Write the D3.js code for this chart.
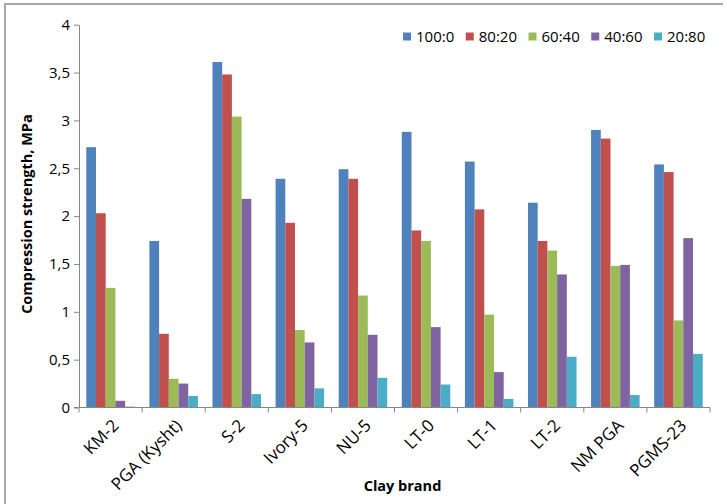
<!DOCTYPE html>
<html>
<head>
<meta charset="utf-8">
<script src="https://cdn.jsdelivr.net/npm/d3@7"></script>
<style>
  html, body { margin: 0; padding: 0; background: #fff; }
  svg { display: block; }
  text { font-family: "Open Sans", "Liberation Sans", sans-serif; fill: #000; }
</style>
</head>
<body>
<svg id="chart" width="727" height="504"></svg>
<script>
// Clay brands on the x axis
const categories = ["KM-2", "PGA (Kysht)", "S-2", "Ivory-5", "NU-5", "LT-0", "LT-1", "LT-2", "NM PGA", "PGMS-23"];
// Mixture ratios (legend entries)
const seriesNames = ["100:0", "80:20", "60:40", "40:60", "20:80"];
const seriesColors = ["#4F81BD", "#C0504D", "#9BBB59", "#8064A2", "#4BACC6"];

// Compression strength, MPa, one array per ratio, ordered as categories
const s100_0 = [2.72, 1.74, 3.61, 2.39, 2.49, 2.88, 2.57, 2.14, 2.90, 2.54];
const s80_20 = [2.03, 0.77, 3.48, 1.93, 2.39, 1.85, 2.07, 1.74, 2.81, 2.46];
const s60_40 = [1.25, 0.30, 3.04, 0.81, 1.17, 1.74, 0.97, 1.64, 1.48, 0.91];
const s40_60 = [0.07, 0.25, 2.18, 0.68, 0.76, 0.84, 0.37, 1.39, 1.49, 1.77];
const s20_80 = [0.01, 0.12, 0.14, 0.20, 0.31, 0.24, 0.09, 0.53, 0.13, 0.56];
const seriesValues = [s100_0, s80_20, s60_40, s40_60, s20_80];

const yTicks = [0, 0.5, 1, 1.5, 2, 2.5, 3, 3.5, 4];

const svg = d3.select("#chart");
const plot = { left: 79, right: 710, top: 24.7, bottom: 407.5 };
const axisColor = "#868686";

// outer frame (top and left edges visible)
svg.append("path")
  .attr("d", "M5,520 L5,4 L723,4")
  .attr("fill", "none")
  .attr("stroke", "#8c8c8c")
  .attr("stroke-width", 1.5);

const x = d3.scaleBand().domain(categories).range([plot.left, plot.right]).padding(0);
const xInner = d3.scaleBand().domain(seriesNames).range([0, x.bandwidth()])
  .paddingInner(0).paddingOuter(0.75);
const y = d3.scaleLinear().domain([0, 4]).range([plot.bottom, plot.top]);

const fmt = d => String(d).replace(".", ",");

// bars
const groups = svg.append("g").selectAll("g")
  .data(categories)
  .join("g")
  .attr("transform", d => `translate(${x(d)},0)`);

groups.selectAll("rect")
  .data((c, ci) => seriesNames.map((s, si) => ({ s, si, v: seriesValues[si][ci] })))
  .join("rect")
  .attr("x", d => xInner(d.s))
  .attr("width", xInner.bandwidth())
  .attr("y", d => y(d.v))
  .attr("height", d => y(0) - y(d.v))
  .attr("fill", d => seriesColors[d.si]);

// y axis
const yAxis = svg.append("g")
  .attr("transform", `translate(${plot.left},0)`)
  .call(d3.axisLeft(y).tickValues(yTicks).tickFormat(fmt).tickSize(5).tickPadding(4).tickSizeOuter(0));
yAxis.select(".domain").attr("stroke", axisColor);
yAxis.selectAll(".tick line").attr("stroke", axisColor);
yAxis.selectAll(".tick text").attr("font-size", 15).attr("fill", "#000");

// x axis: ticks at category boundaries, labels rotated
const xAxisG = svg.append("g").attr("transform", `translate(0,${plot.bottom})`);
xAxisG.append("line")
  .attr("x1", plot.left - 5).attr("x2", plot.right)
  .attr("stroke", axisColor);
const boundaries = categories.map(c => x(c)).concat([plot.right]);
xAxisG.selectAll("line.tk")
  .data(boundaries)
  .join("line")
  .attr("class", "tk")
  .attr("x1", d => d).attr("x2", d => d)
  .attr("y1", 0).attr("y2", 5)
  .attr("stroke", axisColor);
xAxisG.selectAll("text")
  .data(categories)
  .join("text")
  .attr("transform", d => `translate(${x(d) + x.bandwidth() / 2 + 5},${15}) rotate(-45)`)
  .attr("text-anchor", "end")
  .attr("dy", "0.35em")
  .attr("font-size", 17)
  .text(d => d);

// axis titles
svg.append("text")
  .attr("transform", `translate(32,${(plot.top + plot.bottom) / 2 - 2}) rotate(-90)`)
  .attr("text-anchor", "middle")
  .attr("font-size", 14.5)
  .attr("font-weight", "bold")
  .text("Compression strength, MPa");

svg.append("text")
  .attr("x", (plot.left + plot.right) / 2 + 8)
  .attr("y", 491)
  .attr("text-anchor", "middle")
  .attr("font-size", 14.5)
  .attr("font-weight", "bold")
  .text("Clay brand");

// legend
const legend = svg.append("g").attr("transform", "translate(403,37)");
let lx = 0;
seriesNames.forEach((name, i) => {
  const item = legend.append("g").attr("transform", `translate(${lx},0)`);
  item.append("rect").attr("x", 0).attr("y", -4.5).attr("width", 8).attr("height", 8).attr("fill", seriesColors[i]);
  const t = item.append("text").attr("x", 13).attr("dy", "0.35em").attr("font-size", 15).text(name);
  lx += 13 + t.node().getComputedTextLength() + 11.5;
});
</script>
</body>
</html>
